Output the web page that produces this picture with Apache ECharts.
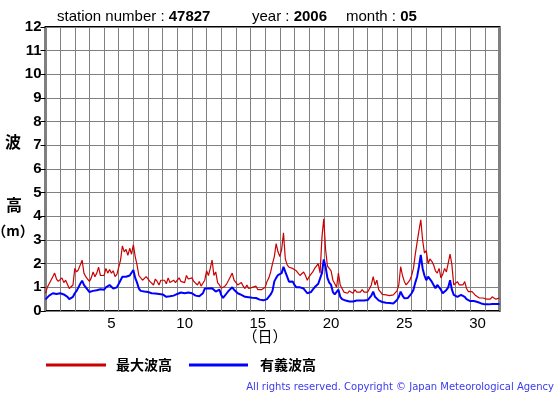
<!DOCTYPE html>
<html><head><meta charset="utf-8">
<script src="https://cdn.jsdelivr.net/npm/echarts@6/dist/echarts.min.js"></script>
<style>html,body{margin:0;padding:0;background:#fff}#c{width:555px;height:395px}</style>
</head><body><div id="c"></div>
<script>
// 3-hourly samples, days 1..31 (8 per day) plus closing point at day 32
const stepPerDay = 8;
const maxWave = [
0.75,1.0,1.15,1.3,1.45,1.6,1.35,1.25,
1.25,1.4,1.2,1.3,1.25,0.95,0.9,1.1,
1.8,1.65,1.75,1.95,2.15,1.6,1.45,1.35,
1.25,1.4,1.65,1.45,1.6,1.85,1.5,1.55,
1.5,1.8,1.6,1.75,1.6,1.7,1.45,1.55,
1.5,2.15,2.75,2.5,2.6,2.35,2.65,2.4,
2.8,2.3,1.95,1.5,1.45,1.3,1.35,1.45,
1.45,1.25,1.3,1.1,1.35,1.25,1.1,1.3,
1.25,1.3,1.15,1.4,1.2,1.15,1.3,1.2,
1.3,1.4,1.25,1.3,1.2,1.5,1.35,1.3,
1.4,1.25,1.3,1.1,1.25,1.05,1.1,1.3,
1.7,1.5,1.8,2.15,1.5,1.65,1.2,1.1,
0.96,1.0,1.05,1.15,1.3,1.45,1.6,1.3,
1.3,1.1,1.15,1.2,1.05,0.95,1.1,0.95,
0.9,1.0,0.95,1.05,0.9,0.85,0.9,0.95,
1.0,1.25,1.4,1.65,2.0,2.3,2.85,2.5,
2.3,2.6,3.3,2.2,1.95,1.85,1.85,1.8,
1.8,1.7,1.6,1.5,1.55,1.65,1.5,1.3,
1.45,1.4,1.65,1.8,1.9,2.0,1.6,3.1,
3.9,2.6,1.9,1.8,1.7,1.3,1.15,1.0,
1.6,1.1,0.95,0.8,0.8,0.75,0.85,0.8,
0.75,0.9,0.8,0.85,0.8,0.9,0.8,0.75,
0.8,0.82,1.1,1.45,1.1,1.3,0.9,0.82,
0.7,0.65,0.68,0.62,0.65,0.7,0.68,0.72,
0.85,1.1,1.87,1.5,1.25,1.1,1.2,1.3,
1.5,1.8,2.4,2.9,3.4,3.85,3.0,2.45,
2.55,2.0,2.2,2.1,1.95,1.7,1.6,1.8,
1.4,1.55,1.8,1.65,1.6,2.4,1.95,1.1,
1.05,1.24,1.1,1.15,1.1,1.24,0.95,0.82,
0.75,0.82,0.78,0.65,0.6,0.55,0.6,0.55,
0.54,0.5,0.55,0.5,0.6,0.55,0.5,0.55,
0.55
];
const sigWave = [
0.49,0.55,0.65,0.7,0.75,0.75,0.72,0.75,
0.75,0.72,0.7,0.72,0.6,0.5,0.48,0.6,
0.75,0.85,1.0,1.15,1.28,1.1,1.0,0.9,
0.8,0.82,0.85,0.9,0.88,0.95,0.92,0.9,
0.9,1.0,1.05,1.1,1.05,0.95,0.95,1.0,
1.0,1.3,1.45,1.4,1.45,1.45,1.5,1.55,
1.73,1.4,1.2,0.95,0.85,0.8,0.82,0.8,
0.8,0.78,0.75,0.72,0.74,0.7,0.72,0.75,
0.7,0.65,0.6,0.58,0.62,0.6,0.65,0.7,
0.72,0.75,0.78,0.72,0.75,0.8,0.78,0.75,
0.75,0.68,0.65,0.6,0.62,0.6,0.75,0.95,
1.03,0.95,0.9,0.96,0.9,0.82,0.85,0.9,
0.68,0.55,0.6,0.75,0.85,0.9,1.0,0.9,
0.82,0.75,0.68,0.68,0.65,0.6,0.62,0.58,
0.54,0.56,0.6,0.55,0.5,0.48,0.46,0.45,
0.44,0.5,0.55,0.7,0.85,1.25,1.4,1.52,
1.55,1.6,1.87,1.65,1.45,1.24,1.3,1.25,
1.1,1.0,0.96,1.0,1.03,0.95,0.9,0.75,
0.68,0.8,0.9,1.0,1.05,1.15,1.2,1.6,
2.18,1.87,1.4,1.2,1.1,0.8,0.7,0.7,
0.9,0.6,0.5,0.42,0.44,0.42,0.4,0.44,
0.4,0.42,0.44,0.42,0.44,0.45,0.44,0.46,
0.46,0.5,0.65,0.82,0.6,0.54,0.45,0.4,
0.38,0.36,0.35,0.36,0.34,0.33,0.32,0.35,
0.46,0.6,0.82,0.65,0.54,0.54,0.55,0.6,
0.75,0.9,1.2,1.45,1.87,2.37,1.8,1.5,
1.3,1.45,1.4,1.24,1.1,0.96,1.1,1.17,
0.9,0.75,0.8,0.89,1.0,1.3,0.9,0.68,
0.65,0.6,0.62,0.68,0.65,0.6,0.5,0.46,
0.42,0.4,0.42,0.4,0.38,0.35,0.32,0.3,
0.28,0.3,0.28,0.3,0.3,0.32,0.3,0.3,
0.3
];
const dayCategories = Array.from({length:31},(_,i)=>String(i+1));
const dayLabels = ['5','10','15','20','25','30'];
const yTicks = [0,1,2,3,4,5,6,7,8,9,10,11,12];
const seriesNames = ['最大波高','有義波高'];
const station = '47827', year = '2006', month = '05';

const toPts = arr => arr.map((v,i)=>[1 + i/stepPerDay, v]);

const chart = echarts.init(document.getElementById('c'), null, {renderer:'canvas'});
const F = '"Liberation Sans", Arial, sans-serif';
chart.setOption({
  animation:false,
  backgroundColor:'#fff',
  grid:{left:45.5,top:27,right:55.5,bottom:84,show:true,borderColor:'#000',borderWidth:2,backgroundColor:'transparent'},
  xAxis:[
    {type:'value',min:1,max:32,interval:1,
     axisLine:{show:false},axisTick:{show:false},axisLabel:{show:false},
     splitLine:{show:true,lineStyle:{color:'#808080',width:1}}},
    {type:'category',data:dayCategories,boundaryGap:true,position:'bottom',
     axisLine:{show:false},axisTick:{show:false},splitLine:{show:false},
     axisLabel:{margin:5,fontFamily:F,fontSize:15,color:'#000',
       interval:(i,v)=>dayLabels.includes(v),formatter:v=>v}}
  ],
  yAxis:{type:'value',min:yTicks[0],max:yTicks[yTicks.length-1],interval:1,
    axisLine:{show:false},
    axisTick:{show:true,length:5,inside:false,lineStyle:{color:'#000',width:1}},
    axisLabel:{margin:4,fontFamily:F,fontSize:15,fontWeight:'bold',color:'#000'},
    splitLine:{show:true,lineStyle:{color:'#808080',width:1}}},
  series:[
    {name:seriesNames[0],type:'line',xAxisIndex:0,data:toPts(maxWave),symbol:'none',
     lineStyle:{color:'#cc0000',width:1.2},z:3},
    {name:seriesNames[1],type:'line',xAxisIndex:0,data:toPts(sigWave),symbol:'none',
     lineStyle:{color:'#0000ff',width:2},z:4}
  ],
  graphic:[
    {type:'text',left:57,top:9,style:{text:'station number : {b|'+station+'}',fontFamily:F,fontSize:15,fill:'#000',
      rich:{b:{fontFamily:F,fontSize:15,fontWeight:'bold',fill:'#000'}}}},
    {type:'text',left:252,top:9,style:{text:'year : {b|'+year+'}',fontFamily:F,fontSize:15,fill:'#000',
      rich:{b:{fontFamily:F,fontSize:15,fontWeight:'bold',fill:'#000'}}}},
    {type:'text',left:346,top:9,style:{text:'month : {b|'+month+'}',fontFamily:F,fontSize:15,fill:'#000',
      rich:{b:{fontFamily:F,fontSize:15,fontWeight:'bold',fill:'#000'}}}},
    {type:'text',x:13,y:142,style:{text:'波',font:'bold 16px "Noto Sans CJK JP"',fill:'#000',align:'center',verticalAlign:'middle'}},
    {type:'text',x:14,y:205,style:{text:'高',font:'bold 16px "Noto Sans CJK JP"',fill:'#000',align:'center',verticalAlign:'middle'}},
    {type:'text',x:13,y:231,style:{text:'（m）',font:'bold 14px "Noto Sans CJK JP"',fill:'#000',align:'center',verticalAlign:'middle'}},
    {type:'text',x:265,y:336,style:{text:'（日）',font:'15px "Noto Sans CJK JP"',fill:'#000',align:'center',verticalAlign:'middle'}},
    {type:'line',shape:{x1:46,y1:365,x2:106,y2:365},style:{stroke:'#cc0000',lineWidth:3}},
    {type:'text',x:116,y:365,style:{text:seriesNames[0],font:'bold 14px "Noto Sans CJK JP"',fill:'#000',verticalAlign:'middle'}},
    {type:'line',shape:{x1:189,y1:365,x2:248,y2:365},style:{stroke:'#0000ff',lineWidth:3}},
    {type:'text',x:260,y:365,style:{text:seriesNames[1],font:'bold 14px "Noto Sans CJK JP"',fill:'#000',verticalAlign:'middle'}},
    {type:'text',x:554,y:387,style:{text:'All rights reserved. Copyright © Japan Meteorological Agency',font:'10px "DejaVu Sans"',fill:'#3a3aee',align:'right',verticalAlign:'middle'}}
  ]
});
</script></body></html>
